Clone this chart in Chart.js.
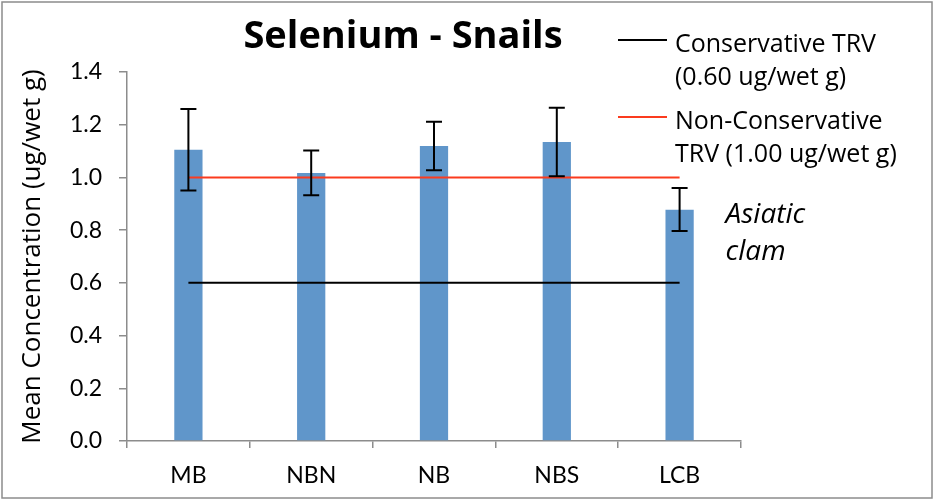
<!DOCTYPE html>
<html lang="en">
<head>
  <meta charset="UTF-8" />
  <title>Selenium - Snails</title>
  <script src="https://cdn.jsdelivr.net/npm/chart.js"></script>
  <style>
    html, body { margin: 0; padding: 0; background: #fff; }
    .wrap { width: 935px; height: 501px; position: relative; }
  </style>
</head>
<body>
  <div class="wrap">
    <canvas id="seChart"></canvas>
  </div>

  <script>
    // data
    const sites = ['MB', 'NBN', 'NB', 'NBS', 'LCB'];
    const meanConc = [1.105, 1.017, 1.119, 1.134, 0.877];
    const errUp = [0.155, 0.085, 0.092, 0.130, 0.083];
    const errDown = [0.155, 0.085, 0.092, 0.130, 0.080];
    const conservTRV = [0.6, 0.6, 0.6, 0.6, 0.6];
    const nonConservTRV = [1.0, 1.0, 1.0, 1.0, 1.0];
    const yTicks = [0, 0.2, 0.4, 0.6, 0.8, 1.0, 1.2, 1.4];
    const legendText = [
      ['Conservative TRV', '(0.60 ug/wet g)'],
      ['Non-Conservative', 'TRV (1.00 ug/wet g)']
    ];
    const noteText = ['Asiatic', 'clam'];

    const FONT = 'Lato, "Open Sans", sans-serif';
    const FONT2 = '"Open Sans", Lato, sans-serif';
    const BLUE = '#6096ca';
    const RED = '#fb3b1e';

    // error bars, title, legend and note are drawn here
    const extras = {
      id: 'extras',
      afterDatasetsDraw(chart) {
        const { ctx, scales: { x, y } } = chart;
        ctx.save();
        ctx.strokeStyle = '#000';
        ctx.lineWidth = 2;
        meanConc.forEach((v, i) => {
          const px = x.getPixelForValue(i);
          const top = y.getPixelForValue(v + errUp[i]);
          const bot = y.getPixelForValue(v - errDown[i]);
          ctx.beginPath();
          ctx.moveTo(px, top); ctx.lineTo(px, bot);
          ctx.moveTo(px - 8, top); ctx.lineTo(px + 8, top);
          ctx.moveTo(px - 8, bot); ctx.lineTo(px + 8, bot);
          ctx.stroke();
        });
        ctx.restore();
      },
      afterDraw(chart) {
        const { ctx, scales: { x } } = chart;
        ctx.save();
        // outer frame
        ctx.strokeStyle = '#8c8c8c';
        ctx.lineWidth = 1.5;
        ctx.strokeRect(2, 2, 930, 496);

        // title
        ctx.fillStyle = '#000';
        ctx.textAlign = 'center';
        ctx.textBaseline = 'alphabetic';
        ctx.font = 'bold 38px ' + FONT2;
        ctx.fillText('Selenium - Snails', 403, 48);

        // legend
        const colors = [chart.data.datasets[1].borderColor, chart.data.datasets[2].borderColor];
        const rowTop = [40, 117];
        ctx.textAlign = 'left';
        ctx.font = '25px ' + FONT2;
        legendText.forEach((lines, k) => {
          ctx.strokeStyle = colors[k];
          ctx.lineWidth = 2;
          ctx.beginPath();
          ctx.moveTo(618, rowTop[k]);
          ctx.lineTo(667, rowTop[k]);
          ctx.stroke();
          lines.forEach((t, j) => ctx.fillText(t, 675, rowTop[k] + 12 + j * 33));
        });

        // note beside the last bar
        ctx.font = 'italic 28px ' + FONT2;
        const nx = x.getPixelForValue(sites.length - 1) + 46;
        noteText.forEach((t, j) => ctx.fillText(t, nx, 223 + j * 37));
        ctx.restore();
      }
    };

    new Chart(document.getElementById('seChart'), {
      type: 'bar',
      data: {
        labels: sites,
        datasets: [{
          label: 'Mean Concentration',
          data: meanConc,
          backgroundColor: BLUE,
          barPercentage: 0.23,
          categoryPercentage: 1,
          order: 3
        }, {
          type: 'line',
          label: legendText[0].join(' '),
          data: conservTRV,
          borderColor: '#000',
          borderWidth: 2,
          pointRadius: 0,
          order: 1
        }, {
          type: 'line',
          label: legendText[1].join(' '),
          data: nonConservTRV,
          borderColor: RED,
          borderWidth: 2,
          pointRadius: 0,
          order: 1
        }]
      },
      options: {
        responsive: true,
        maintainAspectRatio: false,
        animation: false,
        layout: { padding: { top: 72, right: 194, left: 0, bottom: 0 } },
        plugins: {
          legend: { display: false },
          tooltip: { enabled: false }
        },
        scales: {
          x: {
            offset: true,
            grid: { offset: true, drawOnChartArea: false, tickLength: 7, color: '#8c8c8c', lineWidth: 1.5 },
            border: { color: '#8c8c8c', width: 1.5 },
            ticks: { color: '#000', font: { family: FONT, size: 23 }, padding: 14 },
            afterFit(s) { s.height = 60; }
          },
          y: {
            min: 0,
            max: 1.4,
            afterBuildTicks(s) { s.ticks = yTicks.map(v => ({ value: v })); },
            grid: { drawOnChartArea: false, tickLength: 8, color: '#8c8c8c', lineWidth: 1.5 },
            border: { color: '#8c8c8c', width: 1.5 },
            ticks: {
              color: '#000',
              font: { family: FONT, size: 23 },
              padding: 17,
              callback: v => v.toFixed(1)
            },
            title: {
              display: true,
              text: 'Mean Concentration (ug/wet g)',
              color: '#000',
              font: { family: FONT2, size: 26 },
              padding: { top: 17, bottom: 0 }
            },
            afterFit(s) { s.width = 127; }
          }
        }
      },
      plugins: [extras]
    });
  </script>
</body>
</html>
